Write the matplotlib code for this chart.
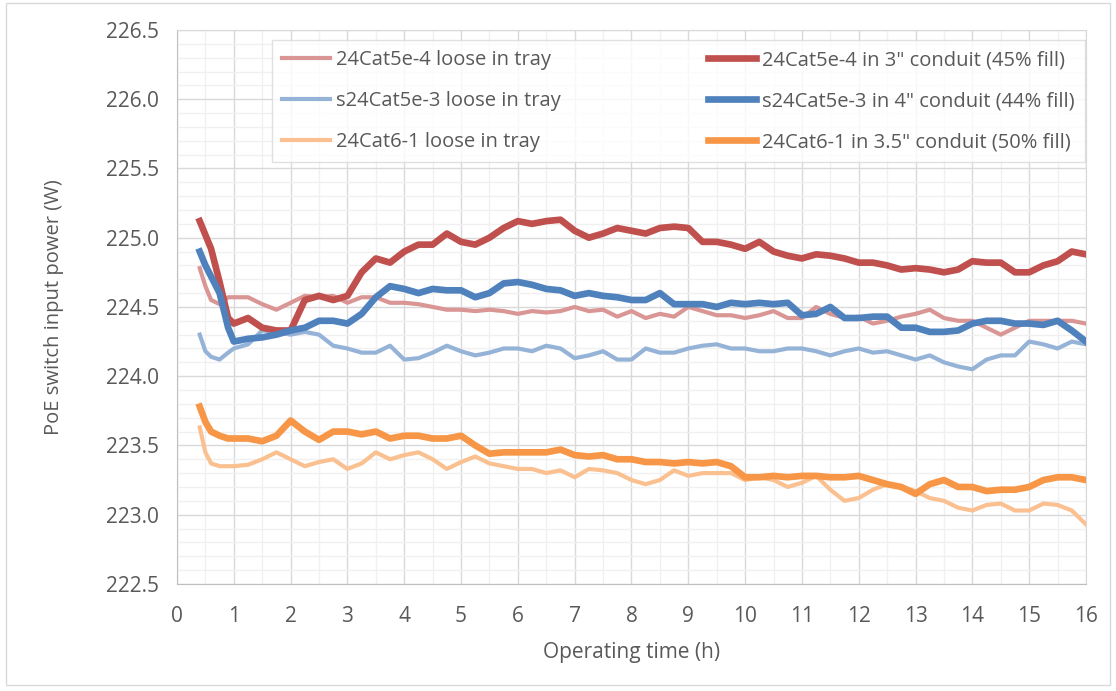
import numpy as np
import matplotlib.pyplot as plt
from matplotlib.patches import Rectangle

# tiempo de operación (h)
t = [0.4, 0.5, 0.6, 0.75, 0.9] + [1.0 + 0.25 * i for i in range(61)]

cat5e4_loose = [224.78, 224.65, 224.55, 224.52, 224.57,
                224.57, 224.57, 224.52, 224.48, 224.53, 224.58, 224.57, 224.58,
                224.53, 224.57, 224.57, 224.53, 224.53, 224.52, 224.5, 224.48,
                224.48, 224.47, 224.48, 224.47, 224.45, 224.47, 224.46, 224.47,
                224.5, 224.47, 224.48, 224.43, 224.47, 224.42, 224.45, 224.43,
                224.5, 224.47, 224.44, 224.44, 224.42, 224.44, 224.47, 224.42,
                224.42, 224.5, 224.45, 224.42, 224.43, 224.38, 224.4, 224.43,
                224.45, 224.48, 224.42, 224.4, 224.4, 224.35, 224.3, 224.35,
                224.4, 224.4, 224.4, 224.4, 224.38]
cat5e3_loose = [224.3, 224.18, 224.14, 224.12, 224.17,
                224.2, 224.23, 224.33, 224.32, 224.3, 224.32, 224.3, 224.22,
                224.2, 224.17, 224.17, 224.22, 224.12, 224.13, 224.17, 224.22,
                224.18, 224.15, 224.17, 224.2, 224.2, 224.18, 224.22, 224.2,
                224.13, 224.15, 224.18, 224.12, 224.12, 224.2, 224.17, 224.17,
                224.2, 224.22, 224.23, 224.2, 224.2, 224.18, 224.18, 224.2,
                224.2, 224.18, 224.15, 224.18, 224.2, 224.17, 224.18, 224.15,
                224.12, 224.15, 224.1, 224.07, 224.05, 224.12, 224.15, 224.15,
                224.25, 224.23, 224.2, 224.25, 224.23]
cat6_loose = [223.63, 223.45, 223.37, 223.35, 223.35,
              223.35, 223.36, 223.4, 223.45, 223.4, 223.35, 223.38, 223.4,
              223.33, 223.37, 223.45, 223.4, 223.43, 223.45, 223.4, 223.33,
              223.38, 223.42, 223.37, 223.35, 223.33, 223.33, 223.3, 223.32,
              223.27, 223.33, 223.32, 223.3, 223.25, 223.22, 223.25, 223.32,
              223.28, 223.3, 223.3, 223.3, 223.25, 223.27, 223.25, 223.2,
              223.23, 223.28, 223.18, 223.1, 223.12, 223.18, 223.22, 223.2,
              223.17, 223.12, 223.1, 223.05, 223.03, 223.07, 223.08, 223.03,
              223.03, 223.08, 223.07, 223.03, 222.93]
cat5e4_conduit = [225.12, 225.02, 224.92, 224.68, 224.42,
                  224.38, 224.42, 224.35, 224.33, 224.33, 224.55, 224.58, 224.55,
                  224.58, 224.75, 224.85, 224.82, 224.9, 224.95, 224.95, 225.03,
                  224.97, 224.95, 225.0, 225.07, 225.12, 225.1, 225.12, 225.13,
                  225.05, 225.0, 225.03, 225.07, 225.05, 225.03, 225.07, 225.08,
                  225.07, 224.97, 224.97, 224.95, 224.92, 224.97, 224.9, 224.87,
                  224.85, 224.88, 224.87, 224.85, 224.82, 224.82, 224.8, 224.77,
                  224.78, 224.77, 224.75, 224.77, 224.83, 224.82, 224.82, 224.75,
                  224.75, 224.8, 224.83, 224.9, 224.88]
cat5e3_conduit = [224.9, 224.8, 224.72, 224.6, 224.35,
                  224.25, 224.27, 224.28, 224.3, 224.33, 224.35, 224.4, 224.4,
                  224.38, 224.45, 224.57, 224.65, 224.63, 224.6, 224.63, 224.62,
                  224.62, 224.57, 224.6, 224.67, 224.68, 224.66, 224.63, 224.62,
                  224.58, 224.6, 224.58, 224.57, 224.55, 224.55, 224.6, 224.52,
                  224.52, 224.52, 224.5, 224.53, 224.52, 224.53, 224.52, 224.53,
                  224.44, 224.45, 224.5, 224.42, 224.42, 224.43, 224.43, 224.35,
                  224.35, 224.32, 224.32, 224.33, 224.38, 224.4, 224.4, 224.38,
                  224.38, 224.37, 224.4, 224.33, 224.25]
cat6_conduit = [223.78, 223.67, 223.6, 223.57, 223.55,
                223.55, 223.55, 223.53, 223.57, 223.68, 223.6, 223.54, 223.6,
                223.6, 223.58, 223.6, 223.55, 223.57, 223.57, 223.55, 223.55,
                223.57, 223.5, 223.44, 223.45, 223.45, 223.45, 223.45, 223.47,
                223.43, 223.42, 223.43, 223.4, 223.4, 223.38, 223.38, 223.37,
                223.38, 223.37, 223.38, 223.35, 223.27, 223.27, 223.28, 223.27,
                223.28, 223.28, 223.27, 223.27, 223.28, 223.25, 223.22, 223.2,
                223.15, 223.22, 223.25, 223.2, 223.2, 223.17, 223.18, 223.18,
                223.2, 223.25, 223.27, 223.27, 223.25]

etiquetas = ['24Cat5e-4 loose in tray', 's24Cat5e-3 loose in tray', '24Cat6-1 loose in tray',
             '24Cat5e-4 in 3" conduit (45% fill)', 's24Cat5e-3 in 4" conduit (44% fill)',
             '24Cat6-1 in 3.5" conduit (50% fill)']

plt.rcParams['font.family'] = ['Open Sans', 'DejaVu Sans']
gris = '#595959'

fig = plt.figure(figsize=(11.16, 6.91), dpi=100)
ax = fig.add_axes([0.1586, 0.155, 0.8145, 0.8016])

# series sueltas (finas) y en conducto (gruesas)
ax.plot(t, cat5e4_loose, color='#D99694', lw=3.0, label=etiquetas[0], zorder=3)
ax.plot(t, cat5e3_loose, color='#95B3D7', lw=3.0, label=etiquetas[1], zorder=3)
ax.plot(t, cat6_loose, color='#FAC090', lw=3.0, label=etiquetas[2], zorder=3)
ax.plot(t, cat5e4_conduit, color='#C0504D', lw=4.8, label=etiquetas[3], zorder=4)
ax.plot(t, cat5e3_conduit, color='#4F81BD', lw=4.8, label=etiquetas[4], zorder=4)
ax.plot(t, cat6_conduit, color='#F79646', lw=4.8, label=etiquetas[5], zorder=4)

ax.set_xlim(0, 16)
ax.set_ylim(222.5, 226.5)
ax.set_xticks(np.arange(0, 17, 1))
ax.set_xticks(np.arange(0.5, 16, 1), minor=True)
ax.set_yticks(np.arange(222.5, 226.51, 0.5))
ax.set_yticks(np.arange(222.5, 226.51, 0.1), minor=True)
ax.set_yticklabels([f'{v:.1f}' for v in np.arange(222.5, 226.51, 0.5)])
ax.grid(which='major', color='#D9D9D9', lw=1.0)
ax.grid(which='minor', color='#F0F0F0', lw=1.0)
ax.set_axisbelow(True)
ax.tick_params(which='both', length=0, labelsize=15, colors=gris)
ax.tick_params(axis='y', pad=13)
ax.tick_params(axis='x', pad=16)
for s in ax.spines.values():
    s.set_color('#D9D9D9')
ax.spines['left'].set_color('#BFBFBF')
ax.spines['bottom'].set_color('#BFBFBF')

ax.set_xlabel('Operating time (h)', fontsize=15, color=gris, labelpad=11)
ax.set_ylabel('PoE switch input power (W)', fontsize=14.5, color=gris, labelpad=30)

ley = ax.legend(ncol=2, loc='upper left', bbox_to_anchor=(0.1045, 0.765, 0.894, 0.217),
                mode='expand', fontsize=14.5, frameon=True, fancybox=False,
                handlelength=2.4, handletextpad=0.3, labelspacing=1.05,
                borderpad=0.5, borderaxespad=0.0, columnspacing=1.0)
ley.get_frame().set_edgecolor('#D9D9D9')
ley.get_frame().set_linewidth(1.0)
for txt in ley.get_texts():
    txt.set_color(gris)

# borde exterior del gráfico
fig.patches.append(Rectangle((0.005, 0.008), 0.99, 0.988, transform=fig.transFigure,
                             fill=False, edgecolor='#D9D9D9', lw=1.0))

plt.savefig('out.png', dpi=100)
plt.close()
